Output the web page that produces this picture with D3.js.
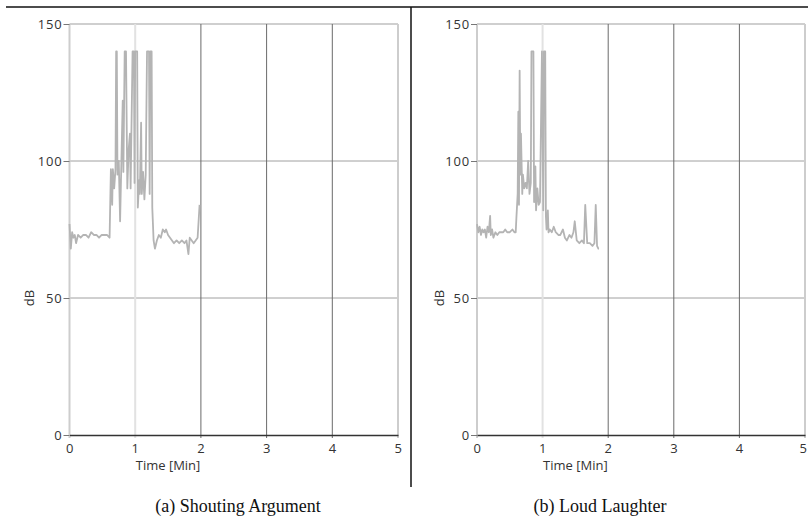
<!DOCTYPE html>
<html>
<head>
<meta charset="utf-8">
<script src="https://cdn.jsdelivr.net/npm/d3@7"></script>
<style>
  body { margin: 0; background: #fff; }
  .tick text { font-family: 'Open Sans', sans-serif; font-size: 13px; fill: #333; letter-spacing: 0.8px; }
  .axisText { font-family: 'Open Sans', sans-serif; font-size: 13px; fill: #333; }
  .caption { font-family: 'Liberation Serif', serif; font-size: 18px; fill: #111; }
</style>
</head>
<body>
<svg id="chart" width="808" height="520"></svg>
<script>
// Axis ticks
var timeTicks = [0, 1, 2, 3, 4, 5];
var dbTicks = [0, 50, 100, 150];

// (a) Shouting Argument - time [min] and level [dB]
var shoutTime = [0.00, 0.02, 0.04, 0.06, 0.08, 0.10, 0.13, 0.17, 0.21, 0.25, 0.29, 0.33, 0.37, 0.41, 0.45, 0.49, 0.53, 0.57, 0.61,
    0.63, 0.65, 0.66, 0.68, 0.70, 0.71, 0.72, 0.73, 0.75, 0.77, 0.79, 0.81, 0.82, 0.84, 0.86, 0.88, 0.90, 0.92, 0.93,
    0.96, 0.98, 0.99, 1.00, 1.03, 1.04, 1.06, 1.07, 1.09, 1.10, 1.12, 1.14, 1.16, 1.18, 1.21, 1.22, 1.23, 1.25, 1.26,
    1.28, 1.30, 1.33, 1.36, 1.39, 1.42, 1.45, 1.47, 1.50, 1.53, 1.56, 1.59, 1.63, 1.67, 1.71, 1.75, 1.78, 1.81, 1.83,
    1.86, 1.89, 1.92, 1.95, 1.98];
var shoutDb = [77, 68, 74, 72, 73, 70, 73, 72, 73, 73, 72, 74, 73, 73, 72, 73, 73, 73, 72,
    97, 84, 97, 90, 97, 140, 140, 95, 100, 78, 100, 122, 96, 140, 140, 90, 104, 110, 90,
    140, 140, 92, 140, 140, 83, 93, 88, 114, 88, 96, 86, 95, 140, 140, 88, 140, 140, 83,
    71, 68, 71, 73, 72, 75, 74, 75, 73, 72, 71, 70, 71, 70, 71, 70, 71, 66, 72,
    71, 70, 71, 72, 84];

// (b) Loud Laughter - time [min] and level [dB]
var laughTime = [0.00, 0.02, 0.04, 0.06, 0.08, 0.10, 0.12, 0.14, 0.16, 0.18, 0.20, 0.21, 0.23, 0.25, 0.28, 0.31, 0.34, 0.37,
    0.40, 0.43, 0.46, 0.50, 0.54, 0.57, 0.59, 0.60, 0.62, 0.63, 0.64, 0.65, 0.66, 0.67, 0.69, 0.70, 0.72, 0.74, 0.76,
    0.78, 0.80, 0.82, 0.83, 0.86, 0.87, 0.89, 0.90, 0.92, 0.94, 0.96, 0.99, 1.01, 1.02, 1.04, 1.05, 1.06, 1.08, 1.09,
    1.11, 1.14, 1.17, 1.20, 1.24, 1.27, 1.31, 1.34, 1.37, 1.41, 1.44, 1.47, 1.49, 1.52, 1.56, 1.60, 1.63, 1.65, 1.68,
    1.72, 1.76, 1.79, 1.81, 1.83, 1.85, 1.86];
var laughDb = [77, 74, 76, 73, 75, 74, 75, 72, 76, 74, 80, 73, 75, 72, 74, 73, 74, 74,
    74, 75, 74, 74, 75, 74, 74, 79, 88, 118, 84, 133, 95, 110, 88, 95, 90, 92, 90,
    100, 88, 92, 140, 140, 85, 98, 82, 90, 84, 85, 140, 82, 140, 140, 80, 75, 82, 74,
    75, 74, 76, 74, 73, 73, 75, 72, 71, 73, 72, 74, 78, 71, 70, 71, 70, 84, 70,
    70, 69, 70, 84, 69, 68, 68];

var svg = d3.select('#chart');

// frame lines of the figure
svg.append('line').attr('x1', 6).attr('x2', 808).attr('y1', 7).attr('y2', 7)
    .attr('stroke', '#111').attr('stroke-width', 1.5);
svg.append('line').attr('x1', 411).attr('x2', 411).attr('y1', 7).attr('y2', 487)
    .attr('stroke', '#111').attr('stroke-width', 1.5);

var panels = [
    { left: 69.5, right: 398, times: shoutTime, values: shoutDb, caption: '(a) Shouting Argument', yLabelX: 30, captionX: 238 },
    { left: 477, right: 805, times: laughTime, values: laughDb, caption: '(b) Loud Laughter', yLabelX: 440, captionX: 600 }
];

panels.forEach(buildPanel);

function buildPanel(p) {
    var top = 24, bottom = 435;
    var x = d3.scaleLinear().domain([0, 5]).range([p.left, p.right]);
    var y = d3.scaleLinear().domain([0, 150]).range([bottom, top]);
    var g = svg.append('g');

    // horizontal grid
    g.selectAll('.hgrid')
        .data(dbTicks.filter(function(d) { return d > 0; }))
        .enter().append('line')
            .attr('x1', p.left).attr('x2', p.right)
            .attr('y1', function(d) { return y(d); })
            .attr('y2', function(d) { return y(d); })
            .attr('stroke', function(d) { return d == 150 ? '#cfcfcf' : '#a0a0a0'; })
            .attr('stroke-width', function(d) { return d == 150 ? 2 : 1; });

    // vertical grid (runs a little past the time axis, like tick marks)
    g.selectAll('.vgrid')
        .data(timeTicks)
        .enter().append('line')
            .attr('x1', function(d) { return x(d); })
            .attr('x2', function(d) { return x(d); })
            .attr('y1', top).attr('y2', bottom + 3)
            .attr('stroke', function(d) {
                if (d == 1) return '#e2e2e2';
                if (d == 0 || d == 5) return '#cdcdcd';
                return '#6a6a6a';
            })
            .attr('stroke-width', function(d) { return (d < 2 || d == 5) ? 2 : 1; });

    // data line
    var pts = p.times.map(function(t, i) { return [t, p.values[i]]; });
    g.append('path')
        .datum(pts)
        .attr('fill', 'none')
        .attr('stroke', '#b4b4b4')
        .attr('stroke-width', 1.8)
        .attr('stroke-linejoin', 'round')
        .attr('d', d3.line()
            .x(function(d) { return x(d[0]); })
            .y(function(d) { return y(d[1]); }));

    // axes
    var leftAxis = d3.axisLeft(y).tickValues(dbTicks).tickFormat(d3.format('d')).tickSize(6).tickPadding(1);
    var yg = g.append('g').attr('transform', 'translate(' + p.left + ',0)').call(leftAxis);
    yg.select('.domain').remove();
    yg.selectAll('.tick line').attr('stroke', '#777');

    var bottomAxis = d3.axisBottom(x).tickValues(timeTicks).tickFormat(d3.format('d')).tickSize(0).tickPadding(9);
    var xg = g.append('g').attr('transform', 'translate(0,' + bottom + ')').call(bottomAxis);
    xg.select('.domain').attr('stroke', '#333').attr('stroke-width', 1.5);
    // keep the last label inside the page
    xg.selectAll('.tick text').attr('dx', function(d) { return (d == 5 && p.right > 800) ? -2 : 0; });

    // axis labels
    g.append('text')
        .attr('class', 'axisText')
        .attr('text-anchor', 'middle')
        .attr('x', x(1.5))
        .attr('y', 470)
        .text('Time [Min]');

    g.append('text')
        .attr('class', 'axisText')
        .attr('text-anchor', 'middle')
        .attr('transform', 'translate(' + (p.yLabelX + 4) + ',' + y(50) + ') rotate(-90)')
        .text('dB');

    g.append('text')
        .attr('class', 'caption')
        .attr('text-anchor', 'middle')
        .attr('x', p.captionX)
        .attr('y', 512)
        .text(p.caption);
}
</script>
</body>
</html>
